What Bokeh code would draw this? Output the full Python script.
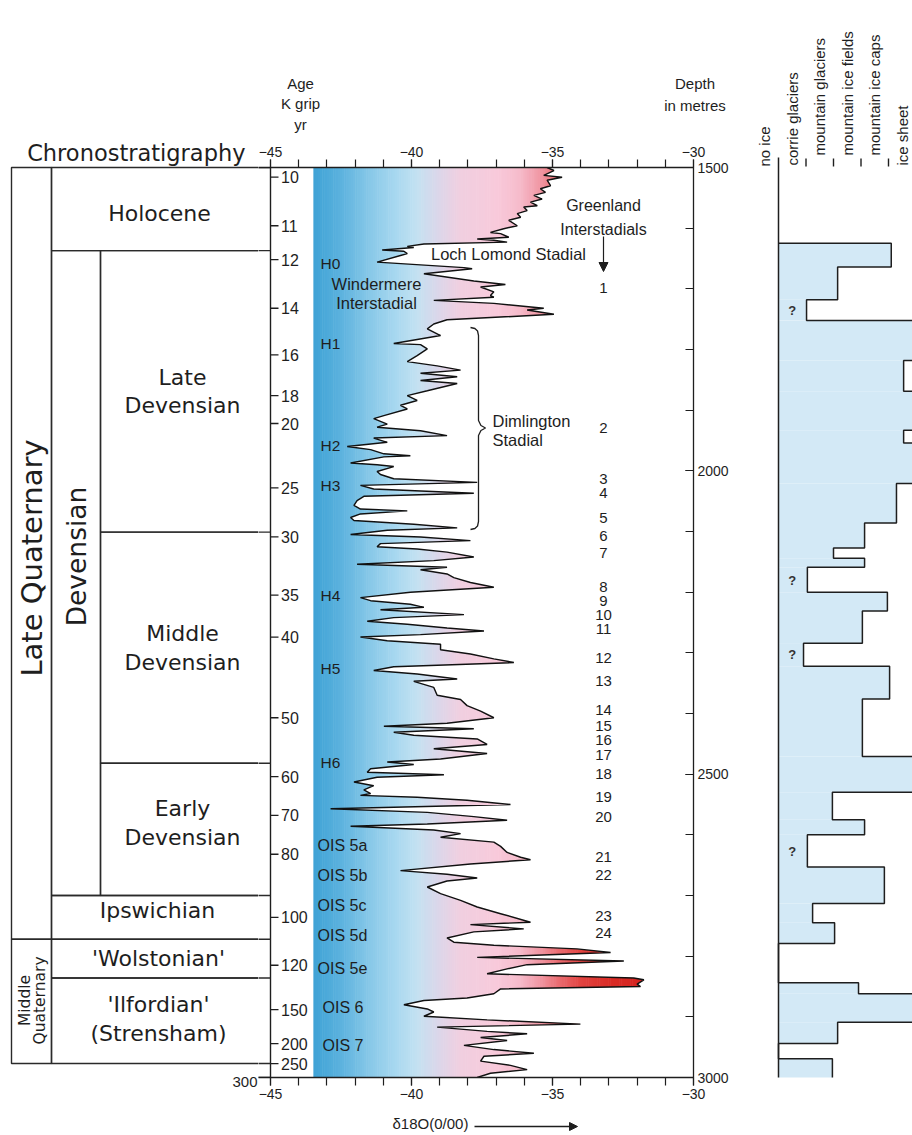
import numpy as np
from bokeh.plotting import figure
from bokeh.layouts import row, column
from bokeh.models import (Range1d, LinearAxis, SingleIntervalTicker, Arrow, NormalHead)
from bokeh.core.properties import value
from bokeh.embed import file_html
from bokeh.resources import INLINE

# ---------------------------------------------------------------- data
# GRIP delta-18O record: core depth (m) and d18O (per mil)
core_depth = [1500, 1505, 1513, 1516, 1521, 1530, 1535, 1541, 1546, 1552, 1557, 1563, 1565, 1571,
              1576, 1582, 1587, 1596, 1601, 1607, 1609, 1615, 1618, 1620, 1623, 1626, 1630, 1632,
              1636, 1638, 1642, 1645, 1656, 1665, 1667, 1675, 1687, 1693, 1697, 1705, 1711, 1714,
              1719, 1724, 1732, 1735, 1742, 1751, 1758, 1766, 1777, 1790, 1792, 1799, 1810, 1820,
              1827, 1834, 1839, 1845, 1851, 1856, 1868, 1876, 1884, 1892, 1898, 1909, 1914, 1923,
              1928, 1934, 1942, 1946, 1953, 1960, 1965, 1972, 1975, 1977, 1987, 1990, 1993, 2001,
              2006, 2013, 2019, 2024, 2030, 2037, 2042, 2049, 2057, 2063, 2066, 2071, 2077, 2082,
              2088, 2094, 2098, 2105, 2109, 2115, 2120, 2125, 2129, 2134, 2142, 2148, 2154, 2159,
              2163, 2170, 2176, 2184, 2192, 2200, 2209, 2214, 2220, 2225, 2229, 2237, 2242, 2248,
              2253, 2259, 2264, 2270, 2274, 2280, 2286, 2295, 2302, 2310, 2316, 2323, 2329, 2335,
              2343, 2347, 2357, 2370, 2377, 2387, 2396, 2407, 2416, 2421, 2425, 2431, 2436, 2442,
              2451, 2458, 2466, 2475, 2480, 2484, 2491, 2497, 2501, 2505, 2513, 2519, 2526, 2532,
              2535, 2538, 2543, 2550, 2557, 2563, 2570, 2576, 2582, 2586, 2592, 2598, 2604, 2612,
              2619, 2629, 2637, 2641, 2648, 2659, 2665, 2671, 2676, 2686, 2697, 2708, 2719, 2730,
              2744, 2748, 2755, 2760, 2770, 2777, 2782, 2788, 2794, 2802, 2808, 2814, 2821, 2829,
              2836, 2839, 2846, 2850, 2854, 2862, 2869, 2873, 2880, 2887, 2892, 2899, 2905, 2912,
              2917, 2924, 2928, 2934, 2939, 2947, 2954, 2960, 2965, 2973, 2980, 2987, 2993, 3000]
d18o = [-35.19, -34.95, -35.31, -34.66, -35.19, -35.07, -35.43, -35.25, -35.66, -35.37, -35.78,
        -35.54, -36.02, -35.90, -36.25, -36.13, -36.55, -36.25, -36.73, -37.20, -36.84, -36.55,
        -37.67, -37.08, -36.61, -39.56, -40.15, -39.92, -41.04, -40.27, -40.15, -40.39, -41.22,
        -38.14, -37.85, -39.56, -37.79, -36.67, -37.55, -37.08, -37.20, -37.08, -39.21, -37.08,
        -35.31, -35.90, -34.95, -38.74, -39.21, -39.44, -38.97, -40.63, -39.68, -39.44, -39.80,
        -40.15, -39.09, -38.26, -39.68, -38.38, -39.68, -38.38, -39.44, -40.15, -39.80, -40.39,
        -40.15, -40.98, -41.34, -40.86, -41.22, -39.68, -38.74, -41.34, -40.86, -42.28, -41.45,
        -40.98, -40.04, -40.98, -42.16, -41.22, -40.63, -41.22, -41.10, -40.63, -37.67, -41.81,
        -41.34, -37.79, -41.69, -41.93, -42.04, -41.81, -40.15, -41.81, -42.16, -42.04, -39.92,
        -38.38, -40.86, -42.16, -39.68, -37.91, -41.10, -41.22, -39.80, -38.74, -37.79, -39.21,
        -41.93, -38.74, -39.68, -38.74, -38.50, -37.91, -37.08, -40.04, -41.81, -41.45, -40.04,
        -39.56, -41.10, -38.14, -40.63, -41.57, -40.15, -38.74, -37.43, -39.68, -41.81, -40.86,
        -38.97, -38.97, -37.91, -37.08, -36.37, -40.63, -41.34, -39.80, -38.38, -39.92, -39.21,
        -39.09, -38.26, -38.03, -37.55, -37.08, -38.74, -40.98, -37.79, -40.63, -39.92, -37.67,
        -37.32, -39.21, -37.32, -38.97, -40.86, -39.92, -41.45, -41.57, -38.85, -41.22, -42.04,
        -41.34, -41.69, -41.45, -41.81, -39.80, -38.03, -36.49, -42.87, -39.44, -37.79, -36.61,
        -39.44, -42.16, -39.21, -38.26, -38.97, -37.08, -36.84, -36.61, -36.13, -35.78, -37.91,
        -40.39, -38.74, -37.67, -38.74, -39.44, -38.97, -38.26, -37.67, -36.84, -35.78, -37.91,
        -36.02, -37.79, -38.74, -38.50, -37.08, -34.13, -32.94, -37.67, -32.47, -35.90, -36.61,
        -37.32, -32.12, -31.76, -32.00, -31.88, -36.84, -37.08, -38.03, -39.56, -40.27, -39.44,
        -39.21, -39.56, -37.32, -34.01, -39.09, -37.32, -35.90, -37.55, -36.61, -38.14, -37.08,
        -35.66, -37.43, -37.55, -36.49, -35.90, -37.20, -37.67]

# GRIP age scale (ka) at core depth (m)
age_ka = [10, 11, 12, 14, 16, 18, 20, 25, 30, 35, 40, 50, 60, 70, 80, 100, 120, 150, 200, 250]
age_depth = [1516, 1596, 1652, 1732, 1809, 1876, 1922, 2028, 2109, 2205, 2274, 2407, 2504,
             2568, 2632, 2736, 2815, 2888, 2944, 2977]
age_base_label = "300"

# Greenland interstadials
gis_number = [str(i) for i in range(1, 25)]
gis_depth = [1699, 1929, 2013, 2036, 2077, 2108, 2136, 2192, 2215, 2237, 2260, 2308, 2346, 2395,
             2420, 2444, 2468, 2499, 2537, 2571, 2636, 2667, 2733, 2761]

# Heinrich events and oxygen isotope stages
heinrich = ["H0", "H1", "H2", "H3", "H4", "H5", "H6"]
heinrich_depth = [1658, 1790, 1958, 2024, 2205, 2326, 2481]
ois = ["OIS 5a", "OIS 5b", "OIS 5c", "OIS 5d", "OIS 5e", "OIS 6", "OIS 7"]
ois_depth = [2617, 2667, 2716, 2766, 2820, 2884, 2947]

# chronostratigraphy (boundaries expressed on the core-depth scale)
stage_name = ["Holocene", "Late\nDevensian", "Middle\nDevensian", "Early\nDevensian",
              "Ipswichian", "'Wolstonian'", "'Ilfordian'\n(Strensham)"]
stage_top = [1500, 1637, 2101, 2482, 2700, 2772, 2836]
stage_bottom = [1637, 2101, 2482, 2700, 2772, 2836, 2977]
stage_in_devensian = [False, True, True, True, False, False, False]
devensian_span = [1637, 2700]
late_quaternary_span = [1500, 2772]
middle_quaternary_span = [2772, 2977]

# extent of glaciation in Britain (0 = no ice ... 5 = ice sheet)
ice_class = ["no ice", "corrie glaciers", "mountain glaciers", "mountain ice fields",
             "mountain ice caps", "ice sheet"]
ice_edges = [1625, 1664, 1718, 1752, 1818, 1869, 1933, 1954, 2021, 2086, 2127, 2144, 2159, 2200,
             2231, 2284, 2322, 2376, 2471, 2530, 2575, 2600, 2653, 2713, 2745, 2779, 2844, 2862,
             2909, 2944, 2969, 3000]
ice_extent = [4.1, 2.15, 1.02, 5.5, 4.55, 5.5, 4.55, 5.5, 4.29, 3.13, 2.0, 3.13, 1.05, 3.96,
              3.05, 0.91, 4.04, 3.05, 5.5, 1.96, 3.13, 1.05, 3.85, 1.24, 2.04, 0.0, 2.91, 5.5,
              2.15, 0.0, 1.96]
ice_uncertain_depth = [1736, 2180, 2302, 2627]

# ---------------------------------------------------------------- layout / style
PX_PER_M = 910 / 1500          # frame height / depth span
PX_PER_D = 423 / 15            # frame width / d18O span
LVL = 27.5                     # px per glaciation class
INK = "#1e1e1e"
SANS = "Liberation Sans"
WIDE = "DejaVu Sans"
FILL_LEFT = -43.48


def m_at(py):      # page row -> depth scale
    return 1500 + (py - 167) / PX_PER_M


def dx(px):        # page column -> d18O scale
    return -45 + (px - 270) / PX_PER_D


def lv(px):        # page column -> glaciation scale
    return (px - 778) / LVL


def bare(width, height, xr, yr, **kw):
    opts = dict(min_border=0)
    opts.update(kw)
    p = figure(width=width, height=height, x_range=xr, y_range=yr, title=None,
               output_backend="svg", toolbar_location=None,
               x_axis_location=None, y_axis_location=None, **opts)
    p.frame_align = False
    p.outline_line_color = None
    p.grid.visible = False
    p.background_fill_color = "white"
    p.border_fill_color = "white"
    return p


def txt(p, x, y, t, size, font=SANS, align="center", baseline="middle", angle=0.0,
        style="normal", color=INK):
    p.text(x=x, y=y, text=t, text_font=value(font), text_font_size=value(size),
           text_align=align, text_baseline=baseline, angle=angle,
           text_font_style=style, text_color=color)


# ---------------------------------------------------------------- left: chronostratigraphy
L = bare(258, 1135, Range1d(0, 258), Range1d(m_at(1135), m_at(0)))
box_left = [100 if s else 51 for s in stage_in_devensian] + [51, 11, 11]
box_right = [270] * len(stage_name) + [100, 51, 51]
box_top = stage_top + [devensian_span[0], late_quaternary_span[0], middle_quaternary_span[0]]
box_bot = stage_bottom + [devensian_span[1], late_quaternary_span[1], middle_quaternary_span[1]]
L.quad(left=box_left, right=box_right, top=box_top, bottom=box_bot,
       fill_color=None, line_color="#2a2a2a", line_width=1.4)

label_x = [159, 182, 182, 182, 157, 158, 158]
label_y = [213, 391, 647.5, 822.5, 910, 958, 1018.5]
for name, xx, yy in zip(stage_name, label_x, label_y):
    lines = name.split("\n")
    n = len(lines)
    for i, ln in enumerate(lines):
        off = (i - (n - 1) / 2) * 28.5
        txt(L, [xx], [m_at(yy + off)], [ln], "22px", font=WIDE)

txt(L, [76], [m_at(556)], ["Devensian"], "26.5px", font=WIDE, angle=np.pi / 2)
txt(L, [31], [m_at(557.5)], ["Late Quaternary"], "29px", font=WIDE, angle=np.pi / 2)
txt(L, [24], [m_at(1000)], ["Middle"], "15.5px", font=WIDE, angle=np.pi / 2)
txt(L, [39.5], [m_at(1000)], ["Quaternary"], "15.5px", font=WIDE, angle=np.pi / 2)
txt(L, [245], [m_at(152)], ["Chronostratigraphy"], "22.5px", font=WIDE, align="right",
    baseline="alphabetic")
txt(L, [257], [m_at(1081)], [age_base_label], "15px", align="right")

# ---------------------------------------------------------------- header above the record
H = bare(482, 135, Range1d(dx(258), dx(740)), Range1d(m_at(135), m_at(0)))
txt(H, [dx(300)] * 3, [m_at(83), m_at(103), m_at(123.5)], ["Age", "K grip", "yr"], "15px")
txt(H, [dx(694.5)] * 2, [m_at(83), m_at(104.5)], ["Depth", "in metres"], "15px")

# ---------------------------------------------------------------- middle: d18O record
M = bare(482, 975, Range1d(dx(258), -30), Range1d(3000, 1500), min_border_left=0,
         min_border_right=47, min_border_top=32, min_border_bottom=33)

stops = [(-43.5, "#3ea2d5"), (-42.5, "#5cb2de"), (-41.5, "#87c8e8"), (-40.5, "#aad9f0"),
         (-39.8, "#c4e1f1"), (-39.0, "#ddd6e9"), (-38.3, "#f0cfe0"), (-37.0, "#f8cadb"),
         (-36.2, "#f6bccc"), (-35.5, "#f19aa7"), (-34.8, "#ea6d72"), (-34.0, "#e24441"),
         (-33.0, "#da2c26"), (-31.0, "#d01e1c")]
sx = [s[0] for s in stops]
srgb = np.array([[int(s[1][i:i + 2], 16) for i in (1, 3, 5)] for s in stops], dtype=float)


def grad(v):
    c = [int(round(np.interp(v, sx, srgb[:, k]))) for k in range(3)]
    return "#%02x%02x%02x" % tuple(c)


edges = np.linspace(FILL_LEFT, -31.0, 161)
mids = (edges[:-1] + edges[1:]) / 2
M.quad(left=edges[:-1], right=edges[1:] + 0.02, top=1500, bottom=3000,
       fill_color=[grad(v) for v in mids], line_color=None)
M.patch(x=d18o + [-29.0, -29.0], y=core_depth + [3000, 1500], fill_color="white",
        line_color=None)
M.line(x=d18o, y=core_depth, line_color="#111111", line_width=1.45)

# age scale (drawn inside, as in the original) and stage-boundary stubs
M.segment(x0=-45, x1=-45, y0=1500, y1=3000, line_color=INK, line_width=1.4)
M.segment(x0=dx(257), x1=-45, y0=stage_top + [stage_bottom[-1], 3000],
          y1=stage_top + [stage_bottom[-1], 3000], line_color="#2a2a2a", line_width=1.4)
M.segment(x0=-45, x1=dx(278), y0=age_depth, y1=age_depth, line_color=INK, line_width=1.3)
txt(M, [dx(280.5)] * len(age_ka), age_depth, [str(a) for a in age_ka], "16px", align="left")

gx = dx(603)
txt(M, [gx] * len(gis_number), gis_depth, gis_number, "15px")
txt(M, [dx(320)] * len(heinrich), heinrich_depth, heinrich, "15.5px", align="left")
ois_x = [dx(317)] * 5 + [dx(322)] * 2
txt(M, ois_x, ois_depth, ois, "16px", align="left")

txt(M, [gx, gx], [m_at(205), m_at(228.5)], ["Greenland", "Interstadials"], "16px")
txt(M, [dx(508)], [m_at(253)], ["Loch Lomond Stadial"], "16.5px")
txt(M, [dx(376)] * 2, [m_at(283), m_at(302)], ["Windermere", "Interstadial"], "16.5px")
txt(M, [dx(492)] * 2, [m_at(420), m_at(439)], ["Dimlington", "Stadial"], "16.5px",
    align="left")

# Dimlington brace
bx = dx(478)
hook = 8 / PX_PER_D
tip = 7 / PX_PER_D
brace_x = [bx - hook, bx - hook * 0.45, bx - hook * 0.12, bx, bx, bx + tip * 0.35, bx + tip,
           bx + tip * 0.35, bx, bx, bx - hook * 0.12, bx - hook * 0.45, bx - hook]
brace_y = [m_at(327), m_at(328), m_at(330.5), m_at(335), m_at(420), m_at(425), m_at(427.5),
           m_at(430), m_at(435), m_at(521), m_at(525.5), m_at(528), m_at(529)]
M.line(x=brace_x, y=brace_y, line_color=INK, line_width=1.3)

M.add_layout(Arrow(x_start=gx, y_start=m_at(236), x_end=gx, y_end=m_at(271),
                   end=NormalHead(size=9, fill_color=INK, line_color=INK),
                   line_color=INK, line_width=1.2))


def d18o_axis():
    ax = LinearAxis(ticker=SingleIntervalTicker(interval=5, num_minor_ticks=5))
    ax.major_tick_in = 0
    ax.major_tick_out = 8
    ax.minor_tick_in = 0
    ax.minor_tick_out = 8
    ax.major_label_standoff = 3
    return ax


top_ax = d18o_axis()
bot_ax = d18o_axis()
right_ax = LinearAxis(ticker=SingleIntervalTicker(interval=500, num_minor_ticks=5))
right_ax.major_tick_in = 8
right_ax.major_tick_out = 0
right_ax.minor_tick_in = 8
right_ax.minor_tick_out = 0
right_ax.major_label_standoff = 4
for ax in (top_ax, bot_ax, right_ax):
    ax.axis_line_color = INK
    ax.axis_line_width = 1.3
    ax.major_tick_line_color = INK
    ax.minor_tick_line_color = INK
    ax.major_tick_line_width = 1.2
    ax.minor_tick_line_width = 1.2
    ax.major_label_text_font = SANS
    ax.major_label_text_font_size = "14px"
    ax.major_label_text_color = INK
M.add_layout(top_ax, "above")
M.add_layout(bot_ax, "below")
M.add_layout(right_ax, "right")

# ---------------------------------------------------------------- footer: x-axis title
F = bare(482, 25, Range1d(dx(258), dx(740)), Range1d(m_at(1135), m_at(1110)))
txt(F, [dx(392)], [m_at(1123)], ["δ18O(0/00)"], "15px", align="left")
F.add_layout(Arrow(x_start=dx(474), y_start=m_at(1126), x_end=dx(577), y_end=m_at(1126),
                   end=NormalHead(size=8, fill_color=INK, line_color=INK),
                   line_color=INK, line_width=1.3))

# ---------------------------------------------------------------- right: glaciation
R = bare(172, 1135, Range1d(lv(740), lv(912)), Range1d(m_at(1135), m_at(0)))
R.quad(left=0, right=ice_extent, top=ice_edges[:-1], bottom=ice_edges[1:],
       fill_color="#d3e9f6", line_color=None)
ox, oy = [0.0], [ice_edges[0]]
for t, b, e in zip(ice_edges[:-1], ice_edges[1:], ice_extent):
    ox += [e, e]
    oy += [t, b]
R.line(x=ox, y=oy, line_color=INK, line_width=1.5)
R.segment(x0=0, x1=0, y0=m_at(157), y1=3000, line_color=INK, line_width=1.5)
R.segment(x0=[1, 2, 3, 4], x1=[1, 2, 3, 4], y0=m_at(158), y1=m_at(166), line_color=INK,
          line_width=1.4)
cls_x = [k - 0.5 for k in range(len(ice_class))]
cls_y = [m_at(166), m_at(165), m_at(155), m_at(155), m_at(155), m_at(165)]
txt(R, cls_x, cls_y, ice_class, "15px", align="left", angle=np.pi / 2)
txt(R, [0.5] * len(ice_uncertain_depth), ice_uncertain_depth, ["?"] * len(ice_uncertain_depth),
    "13px", style="bold", color="#333333")

layout = row(L, column(H, M, F), R)
open("out.html", "w").write(file_html(layout, INLINE))
